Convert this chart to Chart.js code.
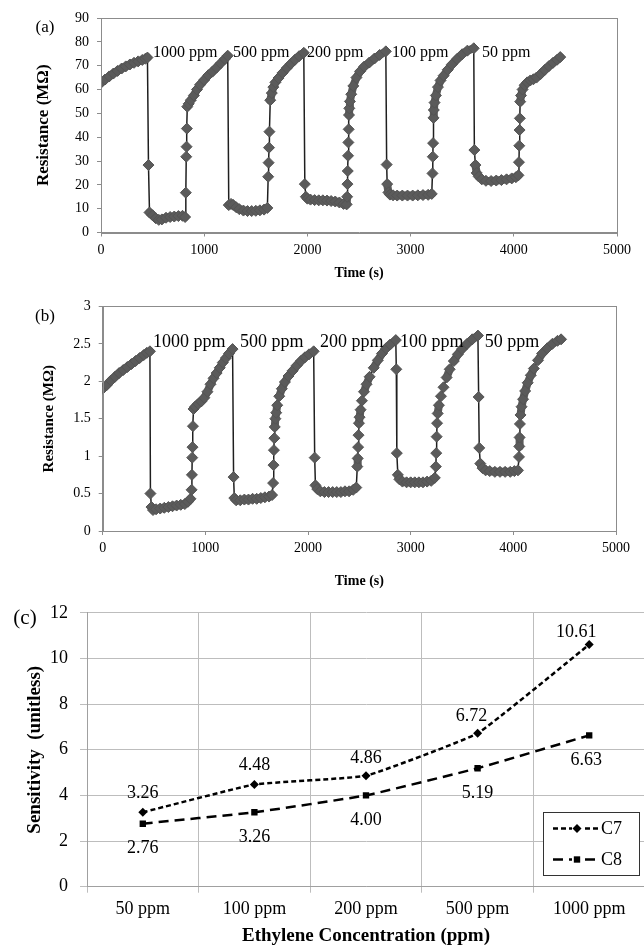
<!DOCTYPE html>
<html>
<head>
<meta charset="utf-8">
<script src="https://cdn.jsdelivr.net/npm/chart.js@4.4.1/dist/chart.umd.min.js"></script>
<style>
  html, body { margin: 0; padding: 0; background: #fff; width: 644px; height: 947px; overflow: hidden; }
  canvas { position: absolute; left: 0; }
  #chartA { top: 0; }
  #chartB { top: 290px; }
  #chartC { top: 590px; }
  .tag { position: absolute; font-family: 'Liberation Serif', 'Times New Roman', serif; color: #000; transform: translate(-50%, -50%); white-space: nowrap; }
</style>
</head>
<body>
<canvas id="chartA" width="644" height="300"></canvas>
<canvas id="chartB" width="644" height="310"></canvas>
<canvas id="chartC" width="660" height="357"></canvas>
<div class="tag" style="left:45px;top:27px;font-size:17px">(a)</div>
<div class="tag" style="left:45px;top:316px;font-size:17px">(b)</div>
<div class="tag" style="left:25px;top:617px;font-size:21px">(c)</div>
<script>
// panel (a) - C7 response, time (s) / resistance (MOhm)
const timeA = [
  0, 40, 80, 120, 160, 200, 240, 280, 320, 360, 400, 430, 450, 460,
  470, 500, 530, 560, 590, 630, 670, 710, 750, 790, 815,
  822, 826, 829, 832, 836, 850, 870, 900, 930, 960, 1000, 1040, 1080, 1120, 1160, 1200, 1228,
  1238, 1260, 1280, 1310, 1340, 1380, 1420, 1460, 1500, 1540, 1580, 1612,
  1620, 1624, 1628, 1632, 1640, 1655, 1670, 1690, 1720, 1760, 1800, 1840, 1880, 1920, 1965, 1975,
  1985, 2000, 2030, 2070, 2110, 2150, 2190, 2230, 2270, 2310, 2350, 2380,
  2385, 2388, 2391, 2394, 2397, 2400, 2403, 2406, 2412, 2425, 2445, 2475, 2510, 2550, 2600, 2650, 2700, 2760, 2768, 2773,
  2785, 2800, 2830, 2870, 2920, 2970, 3020, 3070, 3120, 3170, 3205,
  3212, 3215, 3218, 3222, 3225, 3232, 3245, 3265, 3290, 3320, 3360, 3400, 3450, 3500, 3550, 3612, 3618, 3628,
  3640, 3660, 3690, 3730, 3780, 3830, 3880, 3930, 3980, 4020, 4045,
  4050, 4053, 4056, 4059, 4062, 4070, 4085, 4105, 4130, 4160, 4190, 4220, 4260, 4300, 4340, 4380, 4420, 4450
];
const resA = [
  62.8, 64.2, 65.5, 66.7, 67.8, 68.8, 69.7, 70.5, 71.2, 71.8, 72.4, 72.9, 73.4, 28.3,
  8.4, 7.2, 6.0, 5.3, 5.5, 6.2, 6.5, 6.7, 6.9, 7.0, 6.5,
  16.7, 31.8, 36.0, 43.6, 52.8, 54.0, 55.5, 57.5, 60.0, 62.0, 64.0, 66.0, 67.5, 69.2, 71.0, 72.8, 74.2,
  11.5, 12.0, 11.6, 10.6, 9.8, 9.2, 9.0, 9.0, 9.1, 9.3, 9.6, 10.3,
  23.4, 29.3, 35.6, 42.3, 55.5, 58.5, 61.0, 63.0, 64.8, 67.0, 69.0, 70.8, 72.5, 74.0, 75.4, 20.3,
  15.0, 14.2, 13.8, 13.6, 13.5, 13.5, 13.4, 13.2, 13.0, 12.6, 12.0, 11.8,
  15.0, 20.3, 25.8, 32.2, 37.8, 43.3, 49.3, 52.1, 55.0, 58.0, 61.5, 65.0, 67.6, 69.6, 71.3, 73.0, 74.5, 76.0, 28.5, 20.3,
  16.8, 15.9, 15.6, 15.5, 15.5, 15.5, 15.5, 15.6, 15.7, 15.8, 16.2,
  24.8, 31.8, 37.5, 48.1, 51.4, 54.5, 57.5, 61.0, 63.8, 65.8, 68.3, 70.5, 72.8, 74.8, 76.3, 77.3, 34.6, 28.3,
  25.0, 23.5, 22.3, 21.7, 21.6, 21.8, 22.0, 22.3, 22.7, 23.2, 24.0,
  29.5, 36.4, 43.0, 47.9, 54.9, 57.5, 60.0, 61.8, 63.0, 63.8, 64.3, 65.0, 66.5, 68.2, 69.8, 71.2, 72.5, 73.6
];

// panel (b) - C8 response
const timeB = [
  0, 40, 80, 120, 160, 200, 240, 280, 320, 360, 400, 430, 460, 465,
  475, 490, 520, 560, 600, 640, 680, 720, 760, 800, 830, 855,
  866, 869, 872, 875, 879, 885, 900, 930, 960, 990, 1020, 1050, 1080, 1110, 1140, 1170, 1200, 1230, 1265, 1275,
  1282, 1300, 1340, 1380, 1420, 1460, 1500, 1540, 1580, 1620, 1650,
  1660, 1664, 1668, 1672, 1676, 1682, 1690, 1700, 1720, 1745, 1775, 1810, 1850, 1890, 1930, 1970, 2010, 2055, 2065,
  2072, 2090, 2120, 2160, 2200, 2240, 2280, 2320, 2360, 2400, 2440, 2470,
  2480, 2484, 2488, 2492, 2496, 2502, 2512, 2525, 2545, 2570, 2600, 2640, 2680, 2720, 2760, 2800, 2855, 2860, 2865,
  2875, 2890, 2920, 2960, 3000, 3040, 3080, 3120, 3160, 3200, 3235,
  3245, 3249, 3253, 3257, 3263, 3275, 3295, 3320, 3350, 3380, 3420, 3460, 3500, 3550, 3600, 3655, 3662, 3668,
  3678, 3700, 3730, 3770, 3820, 3870, 3920, 3970, 4010, 4045,
  4055, 4058, 4061, 4064, 4070, 4080, 4095, 4115, 4140, 4170, 4200, 4240, 4280, 4330, 4380, 4430, 4465
];
const resB = [
  1.90, 1.95, 2.01, 2.06, 2.11, 2.15, 2.19, 2.23, 2.27, 2.31, 2.35, 2.38, 2.40, 0.50,
  0.32, 0.28, 0.29, 0.30, 0.31, 0.32, 0.33, 0.34, 0.35, 0.36, 0.39, 0.43,
  0.55, 0.75, 0.98, 1.12, 1.40, 1.63, 1.66, 1.70, 1.73, 1.78, 1.86, 1.96, 2.04, 2.11, 2.18, 2.25, 2.31, 2.37, 2.43, 0.72,
  0.44, 0.41, 0.41, 0.42, 0.42, 0.43, 0.43, 0.44, 0.45, 0.46, 0.48,
  0.64, 0.88, 1.08, 1.24, 1.39, 1.50, 1.58, 1.68, 1.80, 1.90, 1.99, 2.07, 2.14, 2.21, 2.27, 2.32, 2.36, 2.40, 0.98,
  0.61, 0.56, 0.53, 0.52, 0.52, 0.52, 0.52, 0.52, 0.53, 0.53, 0.55, 0.58,
  0.86, 0.97, 1.12, 1.28, 1.44, 1.52, 1.62, 1.74, 1.86, 1.96, 2.06, 2.18, 2.28, 2.37, 2.44, 2.49, 2.55, 2.16, 1.04,
  0.75, 0.69, 0.66, 0.65, 0.65, 0.65, 0.65, 0.65, 0.66, 0.67, 0.71,
  0.86, 1.04, 1.26, 1.44, 1.57, 1.68, 1.80, 1.92, 2.05, 2.16, 2.27, 2.36, 2.43, 2.50, 2.56, 2.61, 1.79, 1.11,
  0.90, 0.84, 0.81, 0.80, 0.79, 0.79, 0.79, 0.79, 0.80, 0.81,
  0.99, 1.13, 1.25, 1.43, 1.55, 1.66, 1.76, 1.87, 1.98, 2.08, 2.17, 2.28, 2.37, 2.44, 2.50, 2.54, 2.56
];

// ppm text above each pulse, in time/resistance units
const pulseNames = ["1000 ppm", "500 ppm", "200 ppm", "100 ppm", "50 ppm"];
const pulseTimeA = [504, 1279, 1996, 2820, 3692];
const pulseTimeB = [491, 1337, 2116, 2895, 3722];

// panel (c) - sensitivity
const concLevels = ["50 ppm", "100 ppm", "200 ppm", "500 ppm", "1000 ppm"];
const sensC7 = [3.26, 4.48, 4.86, 6.72, 10.61];
const sensC8 = [2.76, 3.26, 4.00, 5.19, 6.63];

const SERIF = "'Liberation Serif', 'Times New Roman', serif";
const AXIS_GRAY = "#8c8c8c";
const MARK_GRAY = "#5b5b5b";

// border round the plot area for (a) and (b)
const frameBox = {
  id: "frameBox",
  afterDraw(chart) {
    const a = chart.chartArea, ctx = chart.ctx;
    ctx.save();
    ctx.strokeStyle = AXIS_GRAY;
    ctx.lineWidth = 1;
    ctx.strokeRect(Math.round(a.left) + 0.5, Math.round(a.top) + 0.5, Math.round(a.right - a.left), Math.round(a.bottom - a.top));
    ctx.restore();
  }
};

// ppm labels, placed with the chart scales
const pulseText = {
  id: "pulseText",
  afterDatasetsDraw(chart, args, opts) {
    const ctx = chart.ctx, xs = chart.scales.x, ys = chart.scales.y;
    ctx.save();
    ctx.font = opts.size + "px " + SERIF;
    ctx.fillStyle = "#000";
    ctx.textAlign = "left";
    ctx.textBaseline = "middle";
    pulseNames.forEach((txt, i) => {
      ctx.fillText(txt, xs.getPixelForValue(opts.times[i]), ys.getPixelForValue(opts.level));
    });
    ctx.restore();
  }
};

// long jumps are a thin black line, dense stretches fill in like the overlapping markers
const segLen = c => Math.hypot(c.p1.x - c.p0.x, c.p1.y - c.p0.y);

function pulseChart(id, times, values, o) {
  const pts = times.map((t, i) => ({ x: t, y: values[i] }));
  return new Chart(document.getElementById(id), {
    type: "line",
    data: {
      datasets: [{
        data: pts,
        borderColor: "#1f1f1f",
        borderWidth: 1.5,
        borderCapStyle: "round",
        borderJoinStyle: "round",
        segment: {
          borderWidth: c => segLen(c) > 9 ? 1.5 : 8,
          borderColor: c => segLen(c) > 9 ? "#1f1f1f" : MARK_GRAY
        },
        pointStyle: "rectRot",
        pointRadius: 5.5,
        pointBackgroundColor: MARK_GRAY,
        pointBorderColor: "#545454",
        pointBorderWidth: 1,
        tension: 0
      }]
    },
    options: {
      responsive: false,
      animation: false,
      events: [],
      layout: { padding: { top: o.padTop, right: o.padRight, left: 0, bottom: 0 } },
      plugins: {
        legend: { display: false },
        tooltip: { enabled: false },
        pulseText: { times: o.labelTimes, level: o.labelLevel, size: o.labelSize }
      },
      scales: {
        x: {
          type: "linear", min: 0, max: 5000,
          ticks: { stepSize: 1000, color: "#000", padding: o.xTickPad, maxRotation: 0, font: { family: SERIF, size: o.tickSize }, callback: v => String(v) },
          grid: { drawOnChartArea: false, tickLength: 4, color: AXIS_GRAY },
          border: { color: AXIS_GRAY },
          title: { display: true, text: "Time (s)", color: "#000", font: { family: SERIF, size: 14, weight: "bold" }, padding: { top: 0, bottom: o.xTitlePad } },
          afterFit: s => { s.height = o.xHeight; }
        },
        y: {
          min: 0, max: o.yMax,
          ticks: { stepSize: o.yStep, color: "#000", padding: o.yTickPad, font: { family: SERIF, size: o.tickSize }, callback: v => String(v) },
          grid: { drawOnChartArea: false, tickLength: 4, color: AXIS_GRAY },
          border: { color: AXIS_GRAY },
          title: { display: true, text: "Resistance (MΩ)", color: "#000", font: { family: SERIF, size: o.yTitleSize, weight: "bold" }, padding: { top: o.yTitlePad, bottom: 0 } },
          afterFit: s => { s.width = o.yWidth; }
        }
      }
    },
    plugins: [frameBox, pulseText]
  });
}

pulseChart("chartA", timeA, resA, {
  padTop: 18, padRight: 27, xHeight: 67.5, xTickPad: 5, xTitlePad: 18,
  yMax: 90, yStep: 10, yWidth: 101, yTickPad: 8, yTitleSize: 17, yTitlePad: 33,
  tickSize: 14, labelTimes: pulseTimeA, labelLevel: 75.3, labelSize: 16
});
pulseChart("chartB", timeB, resB, {
  padTop: 16, padRight: 28, xHeight: 69, xTickPad: 5, xTitlePad: 10,
  yMax: 3, yStep: 0.5, yWidth: 102.7, yTickPad: 8, yTitleSize: 15, yTitlePad: 40,
  tickSize: 14, labelTimes: pulseTimeB, labelLevel: 2.52, labelSize: 18
});

// value labels above (C7) / below (C8) the points
const valueText = {
  id: "valueText",
  afterDatasetsDraw(chart, args, opts) {
    const ctx = chart.ctx;
    ctx.save();
    ctx.font = "18px " + SERIF;
    ctx.fillStyle = "#000";
    ctx.textAlign = "center";
    ctx.textBaseline = "middle";
    chart.data.datasets.forEach((ds, di) => {
      chart.getDatasetMeta(di).data.forEach((p, i) => {
        const dy = di === 0 ? -opts.lift[i] : opts.drop;
        ctx.fillText(ds.data[i].toFixed(2), p.x + (opts.shift[di][i] || 0), p.y + dy);
      });
    });
    ctx.restore();
  }
};

// boxed legend in the lower right of (c)
const legendBox = {
  id: "legendBox",
  afterDraw(chart, args, opts) {
    const ctx = chart.ctx;
    const { x, y, w, h } = opts;
    ctx.save();
    ctx.fillStyle = "#fff";
    ctx.fillRect(x, y, w, h);
    ctx.strokeStyle = "#333";
    ctx.lineWidth = 1;
    ctx.strokeRect(x + 0.5, y + 0.5, w, h);
    chart.data.datasets.forEach((ds, i) => {
      const ly = y + 16.5 + i * 31;
      ctx.strokeStyle = "#000";
      ctx.lineWidth = 2.5;
      ctx.setLineDash(ds.borderDash);
      ctx.beginPath();
      ctx.moveTo(x + 10, ly);
      ctx.lineTo(x + 57, ly);
      ctx.stroke();
      ctx.setLineDash([]);
      ctx.fillStyle = "#fff";
      ctx.fillRect(x + 29, ly - 5, 10, 10);
      Chart.helpers.drawPoint(ctx, { pointStyle: ds.pointStyle, radius: ds.pointRadius, borderWidth: 0 }, x + 34, ly);
      ctx.fillStyle = "#000";
      ctx.fill();
      ctx.font = "18px " + SERIF;
      ctx.textAlign = "left";
      ctx.textBaseline = "middle";
      ctx.fillText(ds.label, x + 58, ly + 1);
    });
    ctx.restore();
  }
};

new Chart(document.getElementById("chartC"), {
  type: "line",
  data: {
    labels: concLevels,
    datasets: [
      { label: "C7", data: sensC7, borderColor: "#000", borderWidth: 2.5, borderDash: [5, 3], tension: 0.1,
        pointStyle: "rectRot", pointRadius: 4.5, pointBackgroundColor: "#000", pointBorderColor: "#000", pointBorderWidth: 0 },
      { label: "C8", data: sensC8, borderColor: "#000", borderWidth: 2.5, borderDash: [10, 6], tension: 0.1,
        pointStyle: "rect", pointRadius: 4.5, pointBackgroundColor: "#000", pointBorderColor: "#000", pointBorderWidth: 0 }
    ]
  },
  options: {
    responsive: false,
    animation: false,
    events: [],
    layout: { padding: { top: 19.5, right: 15, left: 0, bottom: 0 } },
    plugins: {
      legend: { display: false },
      tooltip: { enabled: false },
      valueText: { lift: [19, 19, 18, 17, 12], drop: 25, shift: [[0, 0, 0, -6, -13], [0, 0, 0, 0, -3]] },
      legendBox: { x: 543, y: 222, w: 96, h: 63 }
    },
    scales: {
      x: {
        offset: true,
        ticks: { color: "#000", padding: 6, font: { family: SERIF, size: 18 } },
        grid: { offset: true, color: "#bdbdbd", tickLength: 6 },
        border: { color: "#a0a0a0" },
        title: { display: true, text: "Ethylene Concentration (ppm)", color: "#000", font: { family: SERIF, size: 19, weight: "bold" }, padding: { top: 0, bottom: 0 } },
        afterFit: s => { s.height = 60.3; }
      },
      y: {
        min: 0, max: 12,
        ticks: { stepSize: 2, color: "#000", padding: 12, font: { family: SERIF, size: 18 } },
        grid: { color: "#bdbdbd", tickLength: 7 },
        border: { color: "#a0a0a0" },
        title: { display: true, text: "Sensitivity  (unitless)", color: "#000", font: { family: SERIF, size: 19, weight: "bold" }, padding: { top: 23.6, bottom: 0 } },
        afterFit: s => { s.width = 87; }
      }
    }
  },
  plugins: [valueText, legendBox]
});
</script>
</body>
</html>
